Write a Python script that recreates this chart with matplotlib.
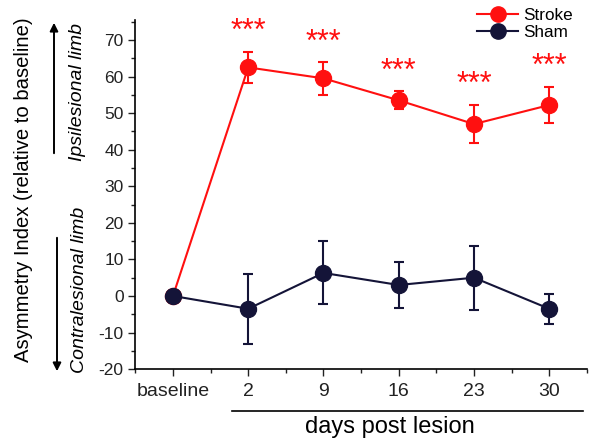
import matplotlib.pyplot as plt
from matplotlib.lines import Line2D

plt.rcParams['font.family'] = ['Liberation Sans', 'DejaVu Sans']
plt.rcParams['axes.unicode_minus'] = False

labels = ['baseline', '2', '9', '16', '23', '30']
stroke = [0, 62.5, 59.5, 53.5, 47.0, 52.2]
stroke_err = [0, 4.3, 4.5, 2.5, 5.3, 5.0]
sham = [0, -3.5, 6.3, 3.0, 5.0, -3.5]
sham_err = [0, 9.5, 8.6, 6.2, 8.7, 4.1]
stars = ['', '***', '***', '***', '***', '***']

red = '#ff1010'
navy = '#141438'
x = range(len(labels))

fig = plt.figure(figsize=(5.91, 4.41), dpi=100)
ax = fig.add_axes([0.229, 0.163, 0.764, 0.792])

ax.errorbar(x, stroke, yerr=stroke_err, color=red, marker='o', markersize=11.5,
            linewidth=1.5, elinewidth=1.5, capsize=3.5, capthick=1.5, zorder=3)
ax.errorbar(x, sham, yerr=sham_err, color=navy, marker='o', markersize=11.5,
            linewidth=1.5, elinewidth=1.5, capsize=3.5, capthick=1.5, zorder=4)

# significance stars above the stroke error bars
for i, s in enumerate(stars):
    if s:
        ax.text(i, stroke[i] + stroke_err[i] + 5.3, s, color=red, fontsize=22,
                ha='center', va='center')

ax.set_xlim(-0.49, 5.45)
ax.set_ylim(-20, 75.5)
ax.set_xticks(list(x))
ax.set_xticklabels(labels)
ax.set_xticks([i + 0.5 for i in range(-1, 6)], minor=True)
ax.set_yticks(range(-20, 71, 10))
ax.set_yticks(range(-15, 76, 10), minor=True)
ax.tick_params(axis='both', which='major', direction='out', length=5, width=1, colors='#222222')
ax.tick_params(axis='x', which='major', labelsize=14, pad=5)
ax.tick_params(axis='y', which='major', labelsize=12.5)
ax.tick_params(axis='both', which='minor', direction='out', length=3, width=1, colors='#222222')
ax.spines['top'].set_visible(False)
ax.spines['right'].set_visible(False)
ax.spines['left'].set_linewidth(1.2)
ax.spines['bottom'].set_linewidth(1.2)

handles = [Line2D([], [], color=red, marker='o', markersize=11, linewidth=1.5),
           Line2D([], [], color=navy, marker='o', markersize=11, linewidth=1.5)]
ax.legend(handles, ['Stroke', 'Sham'], loc='upper right', bbox_to_anchor=(0.985, 1.054),
          frameon=False, fontsize=12.3, handlelength=2.4, handletextpad=0.3,
          labelspacing=0.15, borderaxespad=0)

# x axis group line + label
fig.add_artist(Line2D([232 / 591, 583 / 591], [1 - 411 / 441] * 2, color='black', linewidth=1.2))
fig.text(390 / 591, 1 - 427 / 441, 'days post lesion', fontsize=17, ha='center', va='center')

# y label and direction arrows
fig.text(24 / 591, 1 - 190 / 441, 'Asymmetry Index (relative to baseline)', rotation=90,
         fontsize=14.6, ha='center', va='center')
ax.annotate('', xy=(54 / 591, 1 - 20 / 441), xytext=(54 / 591, 1 - 156 / 441),
            xycoords='figure fraction', textcoords='figure fraction',
            arrowprops=dict(arrowstyle='-|>', color='black', lw=1.4, mutation_scale=12))
ax.annotate('', xy=(57 / 591, 1 - 374 / 441), xytext=(57 / 591, 1 - 235 / 441),
            xycoords='figure fraction', textcoords='figure fraction',
            arrowprops=dict(arrowstyle='-|>', color='black', lw=1.4, mutation_scale=12))
fig.text(78 / 591, 1 - 92 / 441, 'Ipsilesional limb', rotation=90, style='italic',
         fontsize=14, ha='center', va='center')
fig.text(80 / 591, 1 - 290 / 441, 'Contralesional limb', rotation=90, style='italic',
         fontsize=14, ha='center', va='center')

fig.savefig('out.png', dpi=100)
